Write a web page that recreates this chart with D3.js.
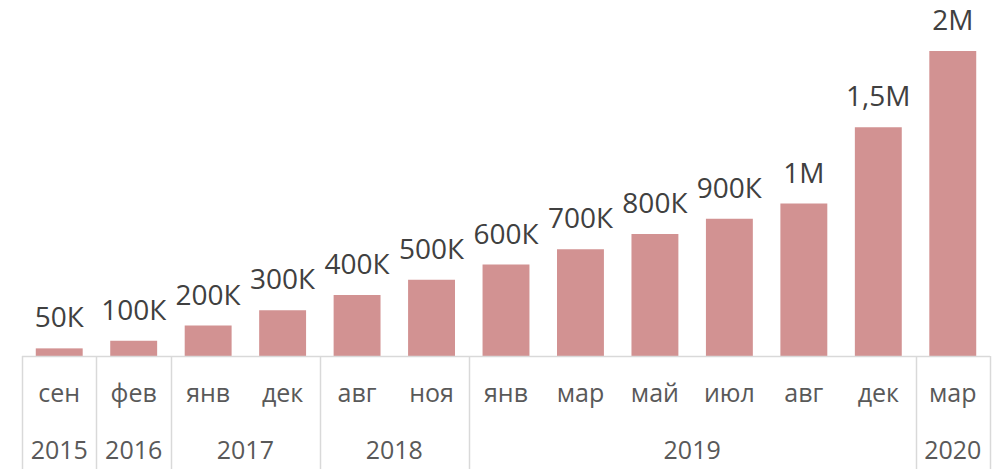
<!DOCTYPE html>
<html>
<head>
<meta charset="utf-8">
<script src="https://cdn.jsdelivr.net/npm/d3@7"></script>
<style>
  body { margin: 0; background: #fff; }
  svg { display: block; font-family: "Open Sans", sans-serif; }
</style>
</head>
<body>
<svg id="drawing_region"></svg>
<script>
const months = ['сен','фев','янв','дек','авг','ноя','янв','мар','май','июл','авг','дек','мар'];
const years  = ['2015','2016','2017','2017','2018','2018','2019','2019','2019','2019','2019','2019','2020'];
const values = [50000,100000,200000,300000,400000,500000,600000,700000,800000,900000,1000000,1500000,2000000];
const valueLabels = ['50К','100К','200К','300К','400К','500К','600К','700К','800К','900К','1М','1,5М','2М'];

const width = 1002, height = 469;
const plotLeft = 22, plotRight = 990, baseline = 356, plotTop = 51;

const svg = d3.select('#drawing_region')
    .attr('width', width)
    .attr('height', height);

const idx = d3.range(values.length);

const xscale = d3.scaleBand()
    .domain(idx)
    .range([plotLeft, plotRight])
    .paddingInner(0.37)
    .paddingOuter(0.185);

const yscale = d3.scaleLinear()
    .domain([0, d3.max(values)])
    .range([baseline, plotTop]);

// bars
svg.append('g').selectAll('rect')
    .data(idx)
    .join('rect')
    .attr('x', i => xscale(i))
    .attr('y', i => yscale(values[i]))
    .attr('width', xscale.bandwidth())
    .attr('height', i => baseline - yscale(values[i]))
    .attr('fill', '#d29292');

// value labels
svg.append('g').selectAll('text')
    .data(idx)
    .join('text')
    .attr('x', i => xscale(i) + xscale.bandwidth() / 2)
    .attr('y', i => yscale(values[i]) - 21)
    .attr('text-anchor', 'middle')
    .attr('fill', '#404040')
    .style('font-size', '28px')
    .text(i => valueLabels[i]);

// axis line
const step = xscale.step();
svg.append('line')
    .attr('x1', plotLeft).attr('x2', plotRight)
    .attr('y1', baseline + 0.5).attr('y2', baseline + 0.5)
    .attr('stroke', '#d9d9d9')
    .attr('stroke-width', 1.5);

// month labels
svg.append('g').selectAll('text')
    .data(idx)
    .join('text')
    .attr('x', i => xscale(i) + xscale.bandwidth() / 2)
    .attr('y', 402)
    .attr('text-anchor', 'middle')
    .attr('fill', '#595959')
    .style('font-size', '25px')
    .text(i => months[i]);

// year groups
const groups = [];
years.forEach((y, i) => {
    const g = groups[groups.length - 1];
    if (g && g.year === y) g.end = i;
    else groups.push({year: y, start: i, end: i});
});

const groupX = i => plotLeft + i * step;

svg.append('g').selectAll('line')
    .data(groups.map(g => g.start).concat([years.length]))
    .join('line')
    .attr('x1', i => Math.round(groupX(i)) + 0.5)
    .attr('x2', i => Math.round(groupX(i)) + 0.5)
    .attr('y1', baseline)
    .attr('y2', height)
    .attr('stroke', '#d9d9d9')
    .attr('stroke-width', 1.5);

svg.append('g').selectAll('text')
    .data(groups)
    .join('text')
    .attr('x', g => (groupX(g.start) + groupX(g.end + 1)) / 2)
    .attr('y', 459)
    .attr('text-anchor', 'middle')
    .attr('fill', '#595959')
    .style('font-size', '25px')
    .text(g => g.year);
</script>
</body>
</html>
